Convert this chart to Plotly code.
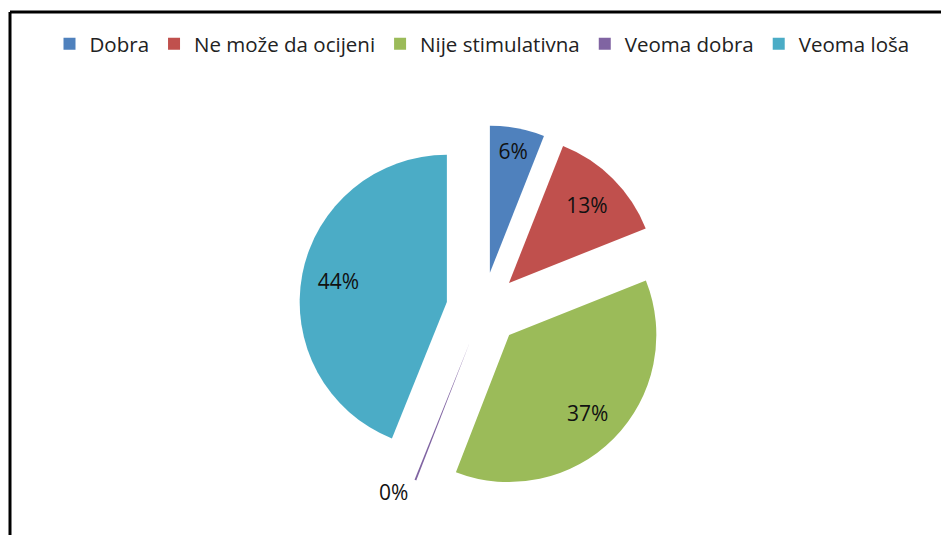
import plotly.graph_objects as go

# Survey answers, in the order they appear around the pie (clockwise from 12 o'clock)
categories = ["Dobra", "Ne može da ocijeni", "Nije stimulativna", "Veoma dobra", "Veoma loša"]
shares = [6, 13, 37, 0.2, 44]
colors = ["#4F81BD", "#C0504D", "#9BBB59", "#8064A2", "#4BACC6"]
label_positions = ["inside", "inside", "inside", "outside", "inside"]

W, H = 941, 535
pie_domain = dict(x=[299 / W, 667 / W], y=[42 / H, 410 / H])
explode = [0.25] * len(categories)

# Filled exploded slices
slices = go.Pie(
    labels=categories,
    values=shares,
    sort=False,
    direction="clockwise",
    rotation=0,
    pull=explode,
    marker=dict(colors=colors, line=dict(width=0)),
    textinfo="none",
    hoverinfo="label+percent",
    domain=pie_domain,
    automargin=False,
)

# Transparent ring on top of the same slices: its text sits near the outer rim
labels_ring = go.Pie(
    labels=categories,
    values=shares,
    sort=False,
    direction="clockwise",
    rotation=0,
    pull=explode,
    hole=0.5,
    marker=dict(colors=["rgba(0,0,0,0)"] * len(categories), line=dict(width=0)),
    texttemplate="%{percent:.0%}",
    textposition=label_positions,
    insidetextorientation="horizontal",
    textfont=dict(family="Open Sans", size=21, color="#111111"),
    hoverinfo="skip",
    showlegend=False,
    domain=pie_domain,
    automargin=False,
)

fig = go.Figure([slices, labels_ring])

# Frame lines along the top and left edges
frame = dict(type="line", xref="paper", yref="paper", line=dict(color="black", width=3))
fig.add_shape(**frame, x0=10 / W, x1=1.0, y0=1 - 12 / H, y1=1 - 12 / H)
fig.add_shape(**frame, x0=10 / W, x1=10 / W, y0=1 - 12 / H, y1=0)

fig.update_layout(
    width=W,
    height=H,
    margin=dict(l=0, r=0, t=0, b=0),
    paper_bgcolor="white",
    plot_bgcolor="white",
    showlegend=True,
    legend=dict(
        orientation="h",
        x=482 / W,
        xanchor="center",
        y=1 - 44 / H,
        yanchor="middle",
        font=dict(family="Open Sans", size=20.5, color="#222222"),
        itemclick=False,
        traceorder="normal",
    ),
)

fig.write_html("out.html")
